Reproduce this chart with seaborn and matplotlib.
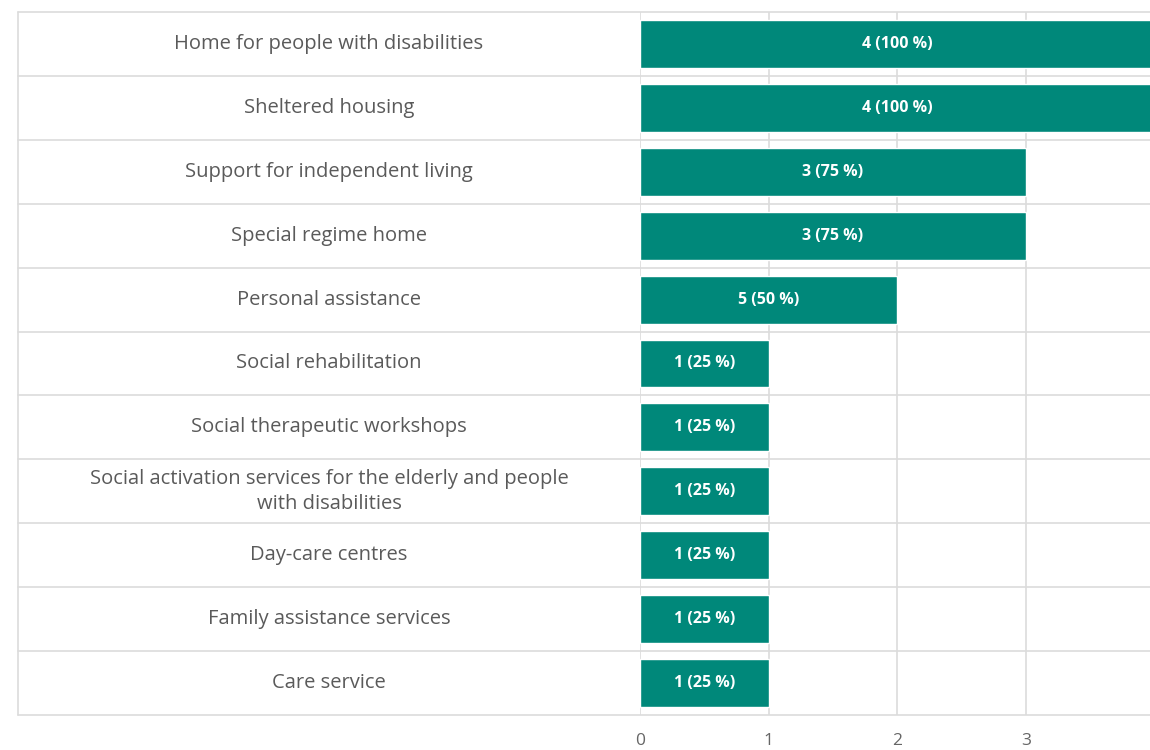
import matplotlib
matplotlib.use("Agg")
import matplotlib.pyplot as plt
import matplotlib.transforms as mtransforms
import seaborn as sns
import pandas as pd

categories = [
    "Home for people with disabilities",
    "Sheltered housing",
    "Support for independent living",
    "Special regime home",
    "Personal assistance",
    "Social rehabilitation",
    "Social therapeutic workshops",
    "Social activation services for the elderly and people\nwith disabilities",
    "Day-care centres",
    "Family assistance services",
    "Care service",
]
values = [4, 4, 3, 3, 2, 1, 1, 1, 1, 1, 1]
bar_labels = ["4 (100 %)", "4 (100 %)", "3 (75 %)", "3 (75 %)", "5 (50 %)",
              "1 (25 %)", "1 (25 %)", "1 (25 %)", "1 (25 %)", "1 (25 %)", "1 (25 %)"]
x_ticks = [0, 1, 2, 3, 4]

sns.set_theme(style="white")
plt.rcParams['font.family'] = ['Open Sans', 'DejaVu Sans']

W, H = 1150, 750
fig = plt.figure(figsize=(W / 100, H / 100), dpi=100)

x0_px, x4_px = 640, 1154.6
top_px, bot_px = 12, 715
left_px = 18
ax = fig.add_axes([x0_px / W, (H - bot_px) / H, (x4_px - x0_px) / W, (bot_px - top_px) / H])

df = pd.DataFrame({"category": categories, "value": values})
sns.barplot(data=df, y="category", x="value", orient="h", color="#00887A",
            width=0.75, saturation=1, ax=ax, zorder=3)

ax.set_xlim(0, 4)
ax.set_ylim(len(categories) - 0.5, -0.5)
ax.set_xticks(x_ticks)
ax.set_xticklabels([str(t) for t in x_ticks], color="#666666", fontsize=12.5)
ax.tick_params(axis="x", length=0, pad=13)
ax.set_yticks([])
ax.set_xlabel("")
ax.set_ylabel("")
for s in ax.spines.values():
    s.set_visible(False)

grid_c = "#dcdcdc"
for t in x_ticks:
    ax.axvline(t, color=grid_c, lw=1.2, zorder=1)

# table row separators spanning full width
xmin_ax = (left_px - x0_px) / (x4_px - x0_px)
for i in range(len(categories) + 1):
    ax.axhline(i - 0.5, xmin=xmin_ax, xmax=1, color=grid_c, lw=1.2, clip_on=False, zorder=2)
ax.plot([xmin_ax, xmin_ax], [0, 1], transform=ax.transAxes, color=grid_c, lw=1.2, clip_on=False)

# category labels centred in left column
trans = mtransforms.blended_transform_factory(fig.transFigure, ax.transData)
cx = ((left_px + x0_px) / 2) / W
for i, c in enumerate(categories):
    ax.text(cx, i, c, transform=trans, ha="center", va="center", fontsize=14.5,
            color="#5a5a5a", linespacing=1.3)

# bar value labels
for i, (v, lab) in enumerate(zip(values, bar_labels)):
    ax.text(v / 2, i, lab, ha="center", va="center", color="white",
            fontsize=11.5, fontweight="bold", zorder=5)

fig.savefig("out.png", dpi=100)
